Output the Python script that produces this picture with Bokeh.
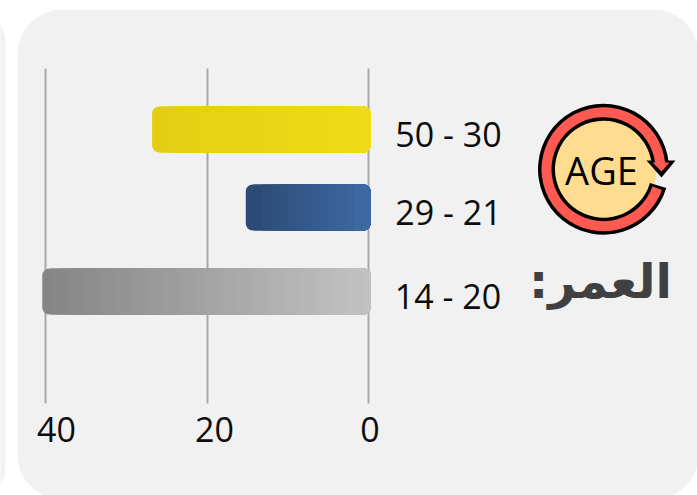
from bokeh.plotting import figure
from bokeh.models import Range1d, FixedTicker
from bokeh.core.properties import value
from bokeh.embed import file_html
from bokeh.resources import INLINE

# ---- data ----
categories = ["50 - 30", "29 - 21", "14 - 20"]
values = [26.8, 15.2, 40.4]
tick_values = [40, 20, 0]
tick_labels = ["40", "20", "0"]
title_text = "العمر:\u200f"
icon_text = "AGE"

# ---- style / layout ----
W, H = 697, 495
PX_PER_UNIT = 8.075
ZERO_PX = 368.0
row_px = [129, 207, 291]
BAR_H = 46
bar_from = ["#E5CD12", "#2B4A74", "#858585"]
bar_to = ["#F0DB17", "#3E6AA4", "#C2C2C2"]


def X(px):
    return (ZERO_PX - px) / PX_PER_UNIT


def mix(a, b, t):
    ca = [int(a[i:i + 2], 16) for i in (1, 3, 5)]
    cb = [int(b[i:i + 2], 16) for i in (1, 3, 5)]
    return "#%02x%02x%02x" % tuple(round(u + (v - u) * t) for u, v in zip(ca, cb))


p = figure(width=W, height=H, output_backend="svg", toolbar_location=None,
           x_range=Range1d(X(0), X(W)), y_range=Range1d(H, 0),
           min_border=0, min_border_left=0, min_border_right=0,
           min_border_top=0, min_border_bottom=0,
           margin=(0, 0, 0, 0), tools="")
p.outline_line_color = None
p.background_fill_color = "#FFFFFF"
p.border_fill_color = "#FFFFFF"
p.xaxis.visible = False
p.yaxis.visible = False
p.ygrid.visible = False
p.xgrid.ticker = FixedTicker(ticks=tick_values)
p.xgrid.grid_line_color = "#A8A8A8"
p.xgrid.grid_line_width = 2
p.xgrid.cross_bounds = (68, 403)

# panels
PANEL = "#F1F1F1"
p.quad(left=[X(-60)], right=[X(5)], top=[9], bottom=[498], fill_color=PANEL,
       line_color=None, border_radius=45, level="image")
p.quad(left=[X(17)], right=[X(698)], top=[9], bottom=[499], fill_color=PANEL,
       line_color=None, border_radius=45, level="image")

# bars: a stack of hbars, painted left to right, to give the horizontal gradient
BAR_RIGHT = X(370)
for i, v in enumerate(values):
    width_px = (v - BAR_RIGHT) * PX_PER_UNIT
    steps = int(width_px // 8)
    for s in range(steps):
        l = v + (BAR_RIGHT - v) * s / steps
        radius = (7, 7, 7, 7) if s == 0 else (0, 7, 7, 0)
        p.hbar(y=[row_px[i]], height=BAR_H, left=[l], right=[BAR_RIGHT],
               fill_color=mix(bar_from[i], bar_to[i], s / (steps - 1)),
               line_color=None, border_radius=radius)

# category labels
p.text(x=[X(448), X(448), X(447.5)], y=[r + 4.5 for r in row_px], text=categories,
       text_font=value("Open Sans"), text_font_size="34px", text_color="#0D0D0D",
       text_align="center", text_baseline="middle")

# x tick labels
tick_px = [56, 214, 369.5]
p.text(x=[X(q) for q in tick_px], y=[428.5] * 3, text=tick_labels,
       text_font=value("Open Sans"), text_font_size="34px", text_color="#0D0D0D",
       text_align="center", text_baseline="middle")

# icon
cx, cy = X(603), 168.7
RED = "#FF5A52"
p.circle(x=[cx], y=[cy], radius=53, radius_units="screen", fill_color="#FFDC8F",
         line_color=None)
A0, A1 = 0.10, -0.29  # ring start/end, radians
p.annular_wedge(x=[cx], y=[cy], inner_radius=48.5, outer_radius=65.5,
                inner_radius_units="screen", outer_radius_units="screen",
                start_angle=A0, end_angle=A1, fill_color="#000000", line_color=None)
p.patch(x=[X(646), X(675), X(661)], y=[160, 160, 177], fill_color="#000000",
        line_color=None)
p.annular_wedge(x=[cx], y=[cy], inner_radius=52, outer_radius=62,
                inner_radius_units="screen", outer_radius_units="screen",
                start_angle=A0, end_angle=A1 - 0.05, fill_color=RED,
                line_color=None)
p.patch(x=[X(652), X(669), X(661)], y=[162, 162, 171], fill_color=RED,
        line_color=None)
p.text(x=[X(601)], y=[169], text=[icon_text], text_font=value("Open Sans"),
       text_font_size="38px", text_color="#000000",
       text_align="center", text_baseline="middle")

# title
p.text(x=[X(600)], y=[280], text=[title_text], text_font=value("DejaVu Sans"),
       text_font_style="bold", text_font_size="48px", text_color="#404040",
       text_align="center", text_baseline="middle")

open("out.html", "w").write(file_html(p, INLINE))
